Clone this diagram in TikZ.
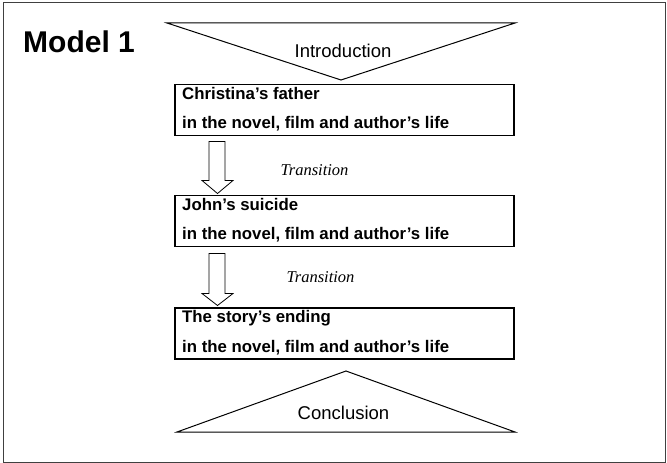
\documentclass[tikz,border=0pt]{standalone}
\usepackage{fontspec}
\setmainfont{Liberation Sans}
\newfontfamily\serifitfont{Liberation Serif}
\begin{document}
\begin{tikzpicture}[x=1bp,y=-1bp,
  frame/.style={draw=black!75, line width=1bp},
  box/.style={draw=black, line width=1.5bp, minimum width=339bp, minimum height=51bp, inner sep=0pt, anchor=north west},
  boxtext/.style={anchor=base west, inner sep=0pt, font=\bfseries\fontsize{16.8bp}{19bp}\selectfont},
  tri/.style={draw=black, line width=1bp, line join=miter},
  tritext/.style={anchor=base, inner sep=0pt, font=\fontsize{18.5bp}{21bp}\selectfont},
  transtext/.style={anchor=base, inner sep=0pt, font=\serifitfont\itshape\fontsize{16.5bp}{19bp}\selectfont},
  blockarrow/.style={draw=black, line width=0.8bp, fill=white, line join=miter}]
\useasboundingbox (0,0) rectangle (667,463);
\draw[frame] (3,3) rectangle (665.5,462);

\node[anchor=base west, inner sep=0pt, font=\bfseries\fontsize{30bp}{34bp}\selectfont] (model) at (23,53) {Model 1};

% Introduction triangle
\draw[tri] (167,23) -- (515,23) -- (341,80) -- cycle;
\node[tritext] (intro) at (343,58) {Introduction};

% boxes
\node[box] (b1) at (174,84) {};
\node[boxtext] (b1a) at (182,100) {Christina’s father};
\node[boxtext] (b1b) at (182,129) {in the novel, film and author’s life};

\node[box] (b2) at (174,195) {};
\node[boxtext] (b2a) at (182,211) {John’s suicide};
\node[boxtext] (b2b) at (182,240) {in the novel, film and author’s life};

\node[box] (b3) at (174,307) {};
\node[boxtext] (b3a) at (182,323) {The story’s ending};
\node[boxtext] (b3b) at (182,352) {in the novel, film and author’s life};

% block arrows
\path (b1.south west) ++(35,5) coordinate (a1);
\draw[blockarrow] (a1) -- ++(16,0) -- ++(0,39) -- ++(8,0) -- ++(-15.5,13) -- ++(-15.5,-13) -- ++(7,0) -- cycle;
\path (b2.south west) ++(35,6) coordinate (a2);
\draw[blockarrow] (a2) -- ++(16,0) -- ++(0,40) -- ++(8,0) -- ++(-15.5,12) -- ++(-15.5,-12) -- ++(7,0) -- cycle;

\node[transtext] (t1) at (314.5,176) {Transition};
\node[transtext] (t2) at (320.5,283) {Transition};

% Conclusion triangle
\draw[tri] (177,432) -- (346,371) -- (515,432) -- cycle;
\node[tritext] (concl) at (343.5,419) {Conclusion};
\end{tikzpicture}
\end{document}
